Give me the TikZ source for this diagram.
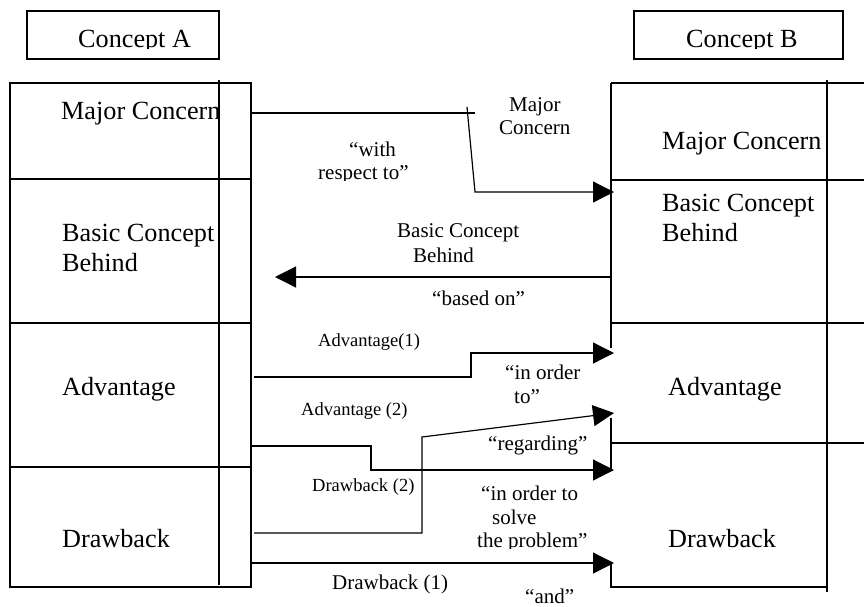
\documentclass[tikz,border=0pt]{standalone}
\usepackage{fontspec}
\setmainfont{Liberation Serif}
\usetikzlibrary{arrows.meta}

\begin{document}
\begin{tikzpicture}[x=1pt,y=-1pt,
  frame/.style={line width=1.3pt},
  big/.style={font=\fontsize{26.2}{30}\selectfont, inner sep=0pt, anchor=base west},
  mid/.style={font=\fontsize{21}{24}\selectfont, inner sep=0pt, anchor=base west},
  sml/.style={font=\fontsize{18.5}{22}\selectfont, inner sep=0pt, anchor=base west},
  link/.style={line width=1.2pt, -{Triangle[length=21pt,width=21pt]}},
  plain/.style={line width=1.2pt},
]
\useasboundingbox (0,0) rectangle (864,606);

% ---- title boxes
\node[draw, frame, minimum width=192pt, minimum height=48pt, inner sep=0pt] (titleA) at (123,35) {};
\node[draw, frame, minimum width=209pt, minimum height=48pt, inner sep=0pt] (titleB) at (738.5,35) {};
\begin{scope}
  \clip (0,0) rectangle (864,48);
  \node[big] (tA) at (78,47) {Concept A};
  \node[big] (tB) at (686,47) {Concept B};
\end{scope}

% ---- left column (concept A)
\draw[frame] (10,83) rectangle (251,587);
\draw[frame] (10,179) -- (251,179);
\draw[frame] (10,323) -- (251,323);
\draw[frame] (10,467) -- (251,467);
\draw[frame] (219,80) -- (219,585);

\node[big] (aMC) at (61,119) {Major Concern};
\node[big] (aBC1) at (62,241) {Basic Concept};
\node[big] (aBC2) at (62,271) {Behind};
\node[big] (aAD) at (62,395) {Advantage};
\node[big] (aDR) at (62,547) {Drawback};

% ---- right column (concept B)
\draw[frame] (611,83) -- (864,83);
\draw[frame] (611,83) -- (611,348);
\draw[frame] (611,418) -- (611,470);
\draw[frame] (611,563) -- (611,587) -- (827,587);
\draw[frame] (611,180) -- (864,180);
\draw[frame] (611,323) -- (864,323);
\draw[frame] (611,443) -- (864,443);
\draw[frame] (827,80) -- (827,592);

\node[big] (bMC) at (662,149) {Major Concern};
\node[big] (bBC1) at (662,211) {Basic Concept};
\node[big] (bBC2) at (662,241) {Behind};
\node[big] (bAD) at (668,395) {Advantage};
\node[big] (bDR) at (668,547) {Drawback};

% ---- connector end points
\coordinate (mcS) at (251,113);
\coordinate (mcT) at (475,113);
\coordinate (mcA) at (467,107);
\coordinate (mcB) at (475,192);
\coordinate (mcE) at (614,192);

\coordinate (bcS) at (611,277);
\coordinate (bcE) at (275,277);

\coordinate (a1S) at (254,377);
\coordinate (a1A) at (471,377);
\coordinate (a1B) at (471,353);
\coordinate (a1E) at (614,353);

\coordinate (a2S) at (251,446);
\coordinate (a2A) at (371,446);
\coordinate (a2B) at (371,470);
\coordinate (a2E) at (614,470);

\coordinate (d2S) at (254,533);
\coordinate (d2A) at (422,533);
\coordinate (d2B) at (422,437);
\coordinate (d2E) at (614,413);

\coordinate (d1S) at (251,563);
\coordinate (d1E) at (614,563);

% ---- connectors
\draw[plain] (mcS) -- (mcT);
\draw[link] (mcA) -- (mcB) -- (mcE);
\draw[link] (bcS) -- (bcE);
\draw[link] (a1S) -- (a1A) -- (a1B) -- (a1E);
\draw[link] (a2S) -- (a2A) -- (a2B) -- (a2E);
\draw[link] (d2S) -- (d2A) -- (d2B) -- (d2E);
\draw[link] (d1S) -- (d1E);

% ---- connector labels
\node[mid] (lMC1) at (509,111) {Major};
\node[mid] (lMC2) at (499,134) {Concern};
\node[mid] (lWR1) at (349,156) {“with};
\begin{scope}
  \clip (300,140) rectangle (460,180.5);
  \node[mid] (lWR2) at (318,179) {respect to”};
\end{scope}
\node[mid] (lBC1) at (397,237) {Basic Concept};
\node[mid] (lBC2) at (413,262) {Behind};
\node[mid] (lBO) at (432,305) {“based on”};

\node[sml] (lA1) at (318,346) {Advantage(1)};
\node[mid] (lIO1) at (505,379) {“in order};
\node[mid] (lIO2) at (514,403) {to”};
\node[sml] (lA2) at (301,415) {Advantage (2)};
\node[mid] (lRG) at (488,450) {“regarding”};
\node[sml] (lD2) at (312,491) {Drawback (2)};
\node[mid] (lSP1) at (481,500) {“in order to};
\node[mid] (lSP2) at (492,524) {solve};
\begin{scope}
  \clip (460,528) rectangle (600,548.5);
  \node[mid] (lSP3) at (477,547) {the problem”};
\end{scope}
\node[mid] (lD1) at (332,589) {Drawback (1)};
\node[mid] (lAND) at (525,603) {“and”};
\end{tikzpicture}
\end{document}
